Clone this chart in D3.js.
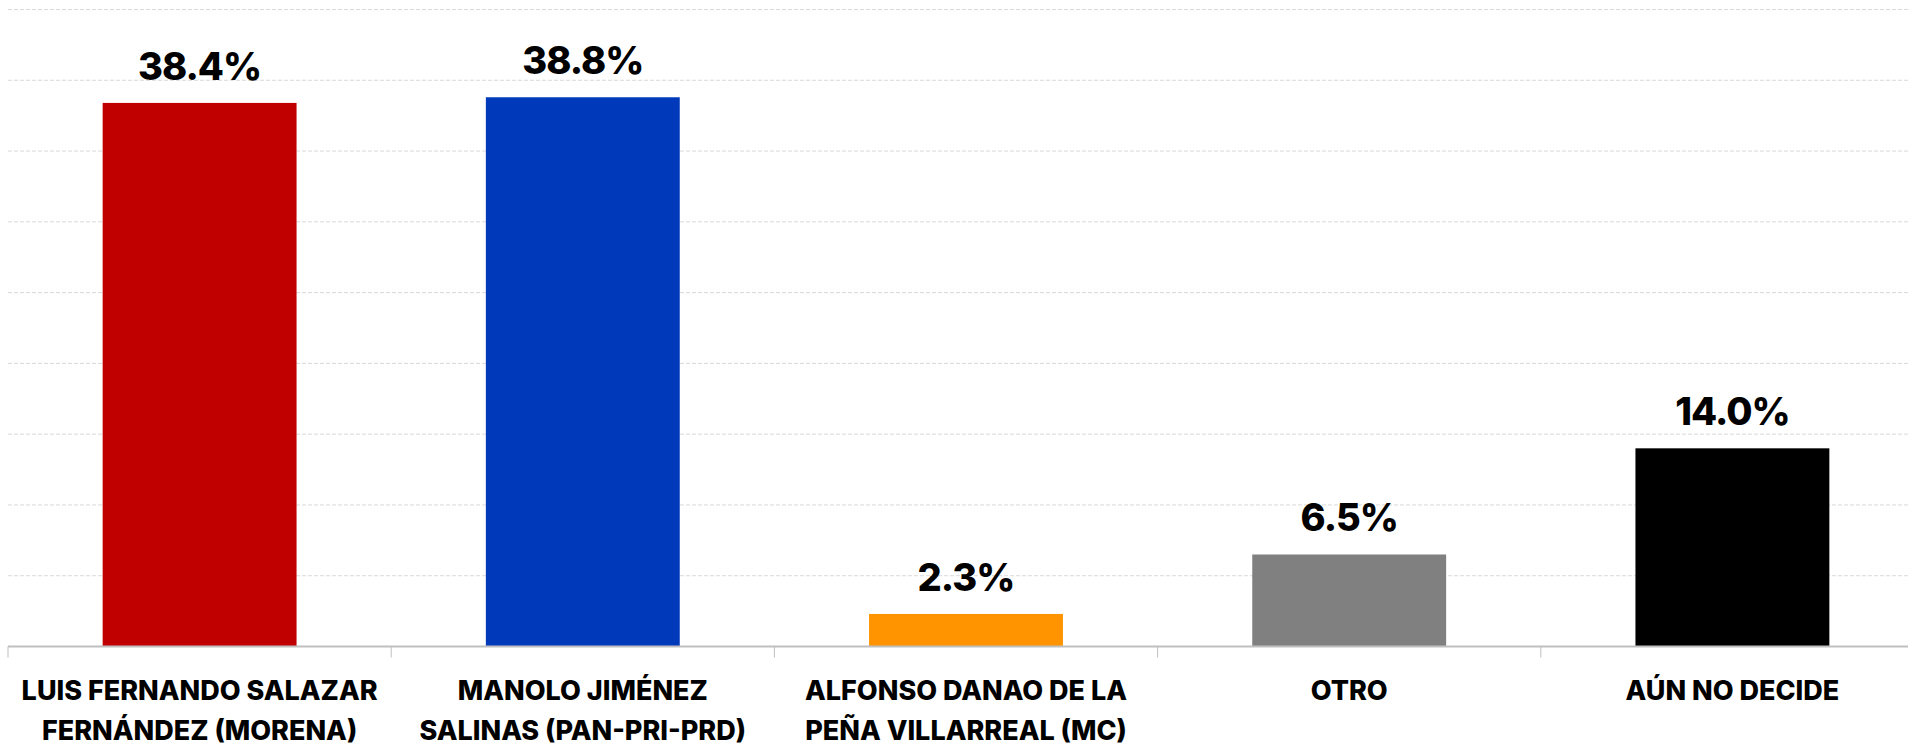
<!DOCTYPE html>
<html>
<head>
<meta charset="utf-8">
<script src="https://cdn.jsdelivr.net/npm/d3@7"></script>
<style>
  body { margin: 0; background: #fff; }
  svg { display: block; }
  text { font-family: "Inter", "Roboto", sans-serif; }
</style>
</head>
<body>
<div id="chart-area"></div>
<script>
// datos
var categories = [
    "LUIS FERNANDO SALAZAR\nFERNÁNDEZ (MORENA)",
    "MANOLO JIMÉNEZ\nSALINAS (PAN-PRI-PRD)",
    "ALFONSO DANAO DE LA\nPEÑA VILLARREAL (MC)",
    "OTRO",
    "AÚN NO DECIDE"
];
var values = [38.4, 38.8, 2.3, 6.5, 14.0];
var colors = ["#c00000", "#0039b9", "#ff9300", "#808080", "#000000"];
var gridTicks = [5, 10, 15, 20, 25, 30, 35, 40, 45];

var width = 1908, height = 748;
var plot = {left: 8, right: 1924, top: 9.5, base: 646.5};

var svg = d3.select("#chart-area").append("svg")
    .attr("width", width)
    .attr("height", height);

var x = d3.scaleBand()
    .domain(categories)
    .range([plot.left, plot.right])
    .paddingInner(0.494)
    .paddingOuter(0.247);

var y = d3.scaleLinear()
    .domain([0, 45])
    .range([plot.base, plot.top]);

// lineas de la cuadricula
svg.append("g")
    .attr("class", "grid")
    .selectAll("line")
    .data(gridTicks)
    .enter()
    .append("line")
    .attr("x1", plot.left)
    .attr("x2", width)
    .attr("y1", d => y(d))
    .attr("y2", d => y(d))
    .attr("stroke", "#d9d9d9")
    .attr("stroke-width", 1)
    .attr("stroke-dasharray", "4,2");

// barras
svg.selectAll("rect.bar")
    .data(values)
    .enter()
    .append("rect")
    .attr("class", "bar")
    .attr("x", (d, i) => x(categories[i]))
    .attr("y", d => y(d))
    .attr("width", x.bandwidth())
    .attr("height", d => plot.base - y(d))
    .attr("fill", (d, i) => colors[i]);

// eje x
svg.append("line")
    .attr("x1", plot.left)
    .attr("x2", width)
    .attr("y1", plot.base)
    .attr("y2", plot.base)
    .attr("stroke", "#bfbfbf")
    .attr("stroke-width", 2);

var step = x.step();
var bounds = categories.map(c => x(c) - (step - x.bandwidth()) / 2);

svg.append("g")
    .selectAll("line")
    .data(bounds)
    .enter()
    .append("line")
    .attr("x1", d => d)
    .attr("x2", d => d)
    .attr("y1", plot.base)
    .attr("y2", plot.base + 11)
    .attr("stroke", "#bfbfbf")
    .attr("stroke-width", 1);

// etiquetas de valor
svg.selectAll("text.value")
    .data(values)
    .enter()
    .append("text")
    .attr("class", "value")
    .attr("x", (d, i) => x(categories[i]) + x.bandwidth() / 2)
    .attr("y", d => y(d) - 23)
    .attr("text-anchor", "middle")
    .attr("font-size", "38px")
    .attr("font-weight", 800)
    .attr("letter-spacing", "-1px")
    .attr("fill", "#000")
    .text(d => d.toFixed(1) + "%");

// etiquetas de categoria
var labels = svg.selectAll("text.cat")
    .data(categories)
    .enter()
    .append("text")
    .attr("class", "cat")
    .attr("x", d => x(d) + x.bandwidth() / 2)
    .attr("y", 700)
    .attr("text-anchor", "middle")
    .attr("font-size", "27px")
    .attr("font-weight", 800)
    .attr("fill", "#000");

labels.selectAll("tspan")
    .data(d => d.split("\n"))
    .enter()
    .append("tspan")
    .attr("x", function() { return d3.select(this.parentNode).attr("x"); })
    .attr("dy", (d, i) => i === 0 ? 0 : 40)
    .text(d => d);
</script>
</body>
</html>
